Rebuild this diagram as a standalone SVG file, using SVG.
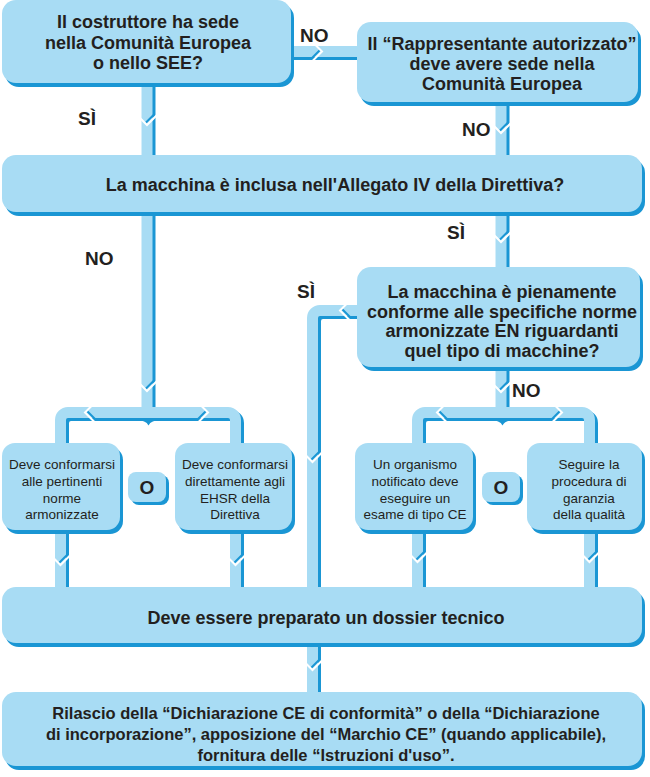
<svg xmlns="http://www.w3.org/2000/svg" xmlns:xlink="http://www.w3.org/1999/xlink" width="650" height="777" viewBox="0 0 650 777">
<defs>
<style>
.box{fill:#a8dcf4}
.sh{fill:#1a96d4}
.cl{fill:none;stroke:#a8dcf4;stroke-width:11}
.cd{fill:none;stroke:#1a96d4;stroke-width:11}
.dip{fill:#1a96d4}
.t{font-family:"Liberation Sans",Arial,sans-serif;font-weight:bold;font-size:18px;fill:#231f20;text-anchor:middle}
.s{font-family:"Liberation Sans",Arial,sans-serif;font-size:13.5px;fill:#231f20;text-anchor:middle}
.f{font-family:"Liberation Sans",Arial,sans-serif;font-weight:bold;font-size:16.5px;fill:#231f20;text-anchor:middle}
.o{font-family:"Liberation Sans",Arial,sans-serif;font-weight:bold;font-size:19px;fill:#231f20;text-anchor:middle}
.l{font-family:"Liberation Sans",Arial,sans-serif;font-weight:bold;font-size:19px;fill:#231f20}
</style>
<g id="chev">
<polyline points="-1.5,-2 7,-10.5" fill="none" stroke="#1a96d4" stroke-width="2"/>
<polyline points="-10,-10 0,0 10,-10" fill="none" stroke="#ffffff" stroke-width="2"/>
</g>
</defs>
<rect width="650" height="777" fill="#ffffff"/>
<g id="connectors">
<g transform="translate(3,3)">
<path class="cd" d="M288 51.5 H362"/>
<path class="cd" d="M147 80 V160"/>
<path class="cd" d="M501 100 V160"/>
<path class="cd" d="M147 208 V413"/>
<path class="cd" d="M501 208 V270"/>
<path class="cd" d="M60.5 446 V420 A7.5 7.5 0 0 1 68 412.5 H228 A7.5 7.5 0 0 1 235.5 420 V446"/>
<path class="cd" d="M362 310.5 H320 A7.5 7.5 0 0 0 312.5 318 V590"/>
<path class="cd" d="M501 365 V413"/>
<path class="cd" d="M417.5 446 V420 A7.5 7.5 0 0 1 425 412.5 H582 A7.5 7.5 0 0 1 589.5 420 V446"/>
<path class="cd" d="M60.5 528 V590 M235.5 528 V590 M417.5 528 V590 M589.5 528 V590"/>
<path class="cd" d="M312.5 640 V694"/>
</g>
<path class="dip" d="M136 420 Q146 420 148.5 425.5 Q151 420 161 420 Z"/>
<path class="dip" d="M490 420 Q500 420 502.5 425.5 Q505 420 515 420 Z"/>
<path class="cl" d="M288 51.5 H362"/>
<path class="cl" d="M147 80 V160"/>
<path class="cl" d="M501 100 V160"/>
<path class="cl" d="M147 208 V413"/>
<path class="cl" d="M501 208 V270"/>
<path class="cl" d="M60.5 446 V420 A7.5 7.5 0 0 1 68 412.5 H228 A7.5 7.5 0 0 1 235.5 420 V446"/>
<path class="cl" d="M362 310.5 H320 A7.5 7.5 0 0 0 312.5 318 V590"/>
<path class="cl" d="M501 365 V413"/>
<path class="cl" d="M417.5 446 V420 A7.5 7.5 0 0 1 425 412.5 H582 A7.5 7.5 0 0 1 589.5 420 V446"/>
<path class="cl" d="M60.5 528 V590 M235.5 528 V590 M417.5 528 V590 M589.5 528 V590"/>
<path class="cl" d="M312.5 640 V694"/>
<use xlink:href="#chev" href="#chev" transform="matrix(0 1 1 0 322 51.5)"/>
<use xlink:href="#chev" href="#chev" transform="translate(147,125)"/>
<use xlink:href="#chev" href="#chev" transform="translate(501,133)"/>
<use xlink:href="#chev" href="#chev" transform="translate(147,391)"/>
<use xlink:href="#chev" href="#chev" transform="translate(501,242)"/>
<use xlink:href="#chev" href="#chev" transform="matrix(0 1 -1 0 340 310.5)"/>
<use xlink:href="#chev" href="#chev" transform="translate(312.5,462)"/>
<use xlink:href="#chev" href="#chev" transform="translate(501,392)"/>
<use xlink:href="#chev" href="#chev" transform="matrix(0 1 -1 0 85 412.5)"/>
<use xlink:href="#chev" href="#chev" transform="matrix(0 1 1 0 208 412.5)"/>
<use xlink:href="#chev" href="#chev" transform="matrix(0 1 -1 0 437 412.5)"/>
<use xlink:href="#chev" href="#chev" transform="matrix(0 1 1 0 562 412.5)"/>
<use xlink:href="#chev" href="#chev" transform="translate(60.5,565)"/>
<use xlink:href="#chev" href="#chev" transform="translate(235.5,565)"/>
<use xlink:href="#chev" href="#chev" transform="translate(417.5,562)"/>
<use xlink:href="#chev" href="#chev" transform="translate(589.5,562)"/>
<use xlink:href="#chev" href="#chev" transform="translate(312.5,670)"/>
<text class="l" x="300" y="42">NO</text>
<text class="l" x="78" y="125">SÌ</text>
<text class="l" x="462" y="136">NO</text>
<text class="l" x="85" y="265">NO</text>
<text class="l" x="447" y="239">SÌ</text>
<text class="l" x="297" y="298">SÌ</text>
<text class="l" x="512" y="397">NO</text>
</g>
<g id="n1">
<rect class="sh" x="5" y="4" width="289" height="83" rx="14"/>
<rect class="box" x="2" y="0" width="289" height="83" rx="14"/>
<text class="t" x="148" y="28">Il costruttore ha sede</text>
<text class="t" x="148" y="48.5">nella Comunità Europea</text>
<text class="t" x="148" y="69">o nello SEE?</text>
</g>
<g id="n2">
<rect class="sh" x="360" y="26" width="281" height="80" rx="14"/>
<rect class="box" x="357" y="22" width="281" height="80" rx="14"/>
<text class="t" x="502" y="50">Il “Rappresentante autorizzato”</text>
<text class="t" x="502" y="70">deve avere sede nella</text>
<text class="t" x="502" y="90">Comunità Europea</text>
</g>
<g id="n3">
<rect class="sh" x="5" y="159" width="640" height="57" rx="14"/>
<rect class="box" x="2" y="155" width="640" height="57" rx="14"/>
<text class="t" x="335" y="191">La macchina è inclusa nell'Allegato IV della Direttiva?</text>
</g>
<g id="n4">
<rect class="sh" x="360" y="271" width="283" height="100" rx="14"/>
<rect class="box" x="357" y="267" width="283" height="100" rx="14"/>
<text class="t" x="502" y="298">La macchina è pienamente</text>
<text class="t" x="502" y="318">conforme alle specifiche norme</text>
<text class="t" x="502" y="337">armonizzate EN riguardanti</text>
<text class="t" x="502" y="357">quel tipo di macchine?</text>
</g>
<g id="n5">
<rect class="sh" x="5" y="447" width="118" height="87" rx="13"/>
<rect class="box" x="2" y="443" width="118" height="87" rx="13"/>
<text class="s" x="62" y="469">Deve conformarsi</text>
<text class="s" x="62" y="486">alle pertinenti</text>
<text class="s" x="62" y="502.5">norme</text>
<text class="s" x="62" y="519">armonizzate</text>
</g>
<g id="o1">
<rect class="sh" x="131" y="475" width="38" height="30" rx="8"/>
<rect class="box" x="128" y="472" width="38" height="30" rx="8"/>
<text class="o" x="147" y="494">O</text>
</g>
<g id="n6">
<rect class="sh" x="178" y="447" width="117" height="87" rx="13"/>
<rect class="box" x="175" y="443" width="117" height="87" rx="13"/>
<text class="s" x="235" y="469">Deve conformarsi</text>
<text class="s" x="235" y="486">direttamente agli</text>
<text class="s" x="235" y="502.5">EHSR della</text>
<text class="s" x="235" y="519">Direttiva</text>
</g>
<g id="n7">
<rect class="sh" x="358" y="447" width="118" height="87" rx="13"/>
<rect class="box" x="355" y="443" width="118" height="87" rx="13"/>
<text class="s" x="415" y="469">Un organismo</text>
<text class="s" x="415" y="486">notificato deve</text>
<text class="s" x="415" y="502.5">eseguire un</text>
<text class="s" x="415" y="519">esame di tipo CE</text>
</g>
<g id="o2">
<rect class="sh" x="485" y="475" width="38" height="30" rx="8"/>
<rect class="box" x="482" y="472" width="38" height="30" rx="8"/>
<text class="o" x="501" y="494">O</text>
</g>
<g id="n8">
<rect class="sh" x="530" y="447" width="115" height="87" rx="13"/>
<rect class="box" x="527" y="443" width="115" height="87" rx="13"/>
<text class="s" x="589" y="469">Seguire la</text>
<text class="s" x="589" y="486">procedura di</text>
<text class="s" x="589" y="502.5">garanzia</text>
<text class="s" x="589" y="519">della qualità</text>
</g>
<g id="n9">
<rect class="sh" x="5" y="591" width="640" height="56" rx="14"/>
<rect class="box" x="2" y="587" width="640" height="56" rx="14"/>
<text class="t" x="326" y="624">Deve essere preparato un dossier tecnico</text>
</g>
<g id="n10">
<rect class="sh" x="5" y="696" width="640" height="74" rx="14"/>
<rect class="box" x="2" y="692" width="640" height="74" rx="14"/>
<text class="f" x="326" y="719">Rilascio della “Dichiarazione CE di conformità” o della “Dichiarazione</text>
<text class="f" x="326" y="740">di incorporazione”, apposizione del “Marchio CE” (quando applicabile),</text>
<text class="f" x="326" y="761">fornitura delle “Istruzioni d'uso”.</text>
</g>
</svg>
